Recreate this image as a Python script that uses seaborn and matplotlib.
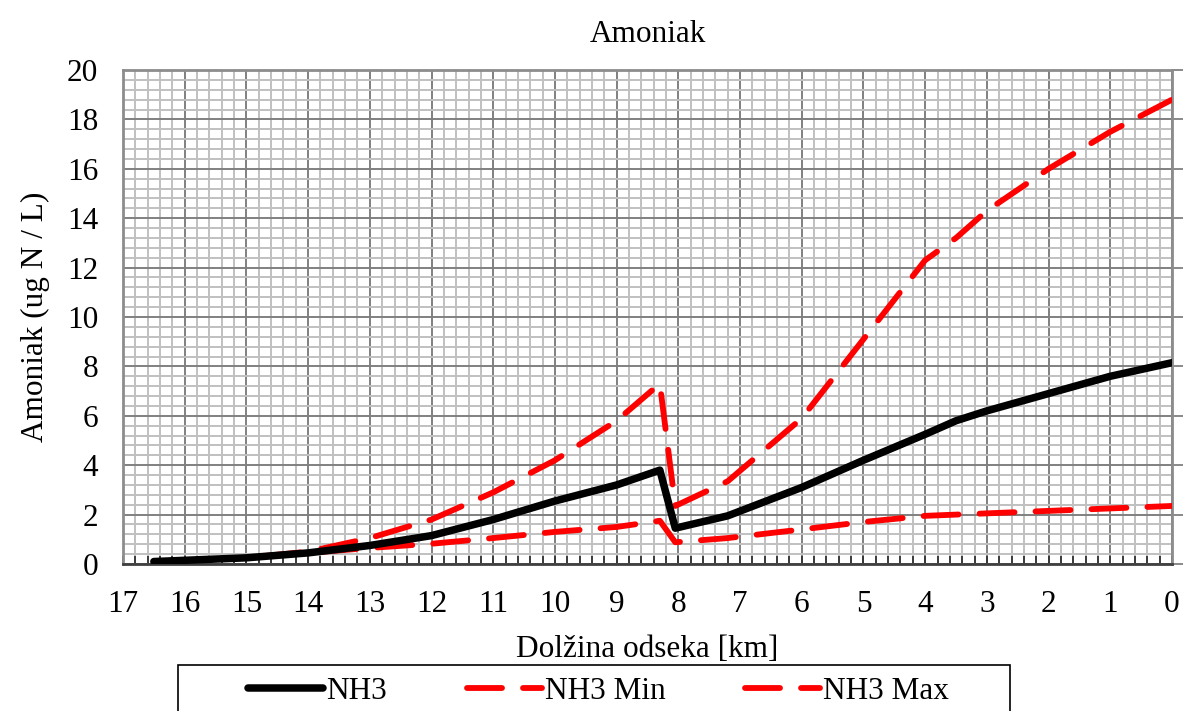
import numpy as np
import pandas as pd
import matplotlib
matplotlib.use("Agg")
import matplotlib.pyplot as plt
from matplotlib.ticker import MultipleLocator
from matplotlib.lines import Line2D
from matplotlib.patches import Rectangle
import seaborn as sns

# ---- data ----
km = [16.5, 16, 15, 14, 13, 12, 11, 10, 9, 8.3, 8.05, 7.2, 6, 5, 4, 3.5, 3, 2, 1, 0]
nh3 = [0.1, 0.15, 0.25, 0.45, 0.75, 1.15, 1.8, 2.55, 3.2, 3.8, 1.45, 1.95, 3.1, 4.2, 5.25, 5.8, 6.2, 6.9, 7.6, 8.15]
nh3_min = [0.1, 0.15, 0.25, 0.45, 0.65, 0.82, 1.05, 1.3, 1.5, 1.75, 0.88, 1.05, 1.4, 1.7, 1.95, 2.0, 2.05, 2.15, 2.25, 2.35]
nh3_max = [0.1, 0.15, 0.25, 0.5, 1.05, 1.8, 2.9, 4.2, 5.8, 7.3, 2.35, 3.35, 5.9, 9.1, 12.3, 13.2, 14.3, 16.0, 17.5, 18.8]
labels = ["NH3", "NH3 Min", "NH3 Max"]
x_ticks = list(range(0, 18))
y_ticks = list(range(0, 21, 2))

df = pd.DataFrame({"km": km, "NH3": nh3, "NH3 Min": nh3_min, "NH3 Max": nh3_max})

sns.set_theme(style="white")
plt.rcParams["font.family"] = ["Liberation Serif", "DejaVu Serif"]
plt.rcParams["text.color"] = "black"
plt.rcParams["axes.labelcolor"] = "black"
plt.rcParams["xtick.color"] = "black"
plt.rcParams["ytick.color"] = "black"

FS = 22.5

fig = plt.figure(figsize=(11.86, 7.11), dpi=100)
ax = fig.add_axes([123/1186, 1-564/711, (1172-123)/1186, (564-70)/711])

dash = (6.0, 3.6)
LW_R = 4.2
LW_K = 5.4
sns.lineplot(data=df, x="km", y="NH3 Min", ax=ax, color="#ff0000", lw=LW_R,
             sort=False, zorder=3)
sns.lineplot(data=df, x="km", y="NH3 Max", ax=ax, color="#ff0000", lw=LW_R,
             sort=False, zorder=3)
sns.lineplot(data=df, x="km", y="NH3", ax=ax, color="black", lw=LW_K,
             sort=False, zorder=4)
lines = ax.get_lines()
for ln in lines[:2]:
    ln.set_dashes(dash)
    ln.set_dash_capstyle("round")
lines[2].set_solid_joinstyle("round")
lines[2].set_solid_capstyle("round")

ax.set_xlim(17, 0)
ax.set_ylim(0, 20)
ax.set_xticks(x_ticks)
ax.set_yticks(y_ticks)
ax.xaxis.set_minor_locator(MultipleLocator(0.2))
ax.yaxis.set_minor_locator(MultipleLocator(0.4))
ax.grid(which="minor", color="#c0c0c0", lw=1.4, zorder=0)
ax.grid(which="major", color="#808080", lw=1.4, zorder=1)
ax.set_axisbelow(True)

for s in ["left", "top", "right"]:
    ax.spines[s].set_color("#8c8c8c")
    ax.spines[s].set_linewidth(2)
ax.spines["bottom"].set_color("#404040")
ax.spines["bottom"].set_linewidth(2)

ax.tick_params(axis="x", which="both", direction="in", bottom=True, top=False,
               length=6, width=1.3, color="#303030", labelsize=FS, pad=19,
               labelcolor="black")
ax.tick_params(axis="y", which="major", left=False, right=True, direction="out",
               length=8, width=1.3, color="#808080", labelsize=FS, labelleft=True,
               labelright=False, pad=10, labelcolor="black")
ax.tick_params(axis="y", which="minor", left=False, right=False)

ax.set_xlabel("Dolžina odseka [km]", fontsize=FS, labelpad=11, color="black")
ax.set_ylabel("Amoniak (ug N / L)", fontsize=FS, labelpad=12, color="black")
ax.set_title("Amoniak", fontsize=FS, pad=20, color="black")

handles = [Line2D([], [], color="black", lw=LW_K, solid_capstyle="round"),
           Line2D([], [], color="#ff0000", lw=LW_R, dashes=dash, dash_capstyle="round"),
           Line2D([], [], color="#ff0000", lw=LW_R, dashes=dash, dash_capstyle="round")]
leg = fig.legend(handles, labels, loc="upper left", bbox_to_anchor=(248/1186, 1-677/711),
                 ncol=3, fontsize=FS, frameon=False, handlelength=2.4,
                 handletextpad=0.1, columnspacing=2.55, borderpad=0,
                 borderaxespad=0)
for t in leg.get_texts():
    t.set_color("black")
fig.add_artist(Rectangle((178/1186, -0.1), (1010-178)/1186, (1-665/711)+0.1,
                         transform=fig.transFigure, fill=False, ec="black", lw=1.2))

fig.savefig("out.png", dpi=100)
